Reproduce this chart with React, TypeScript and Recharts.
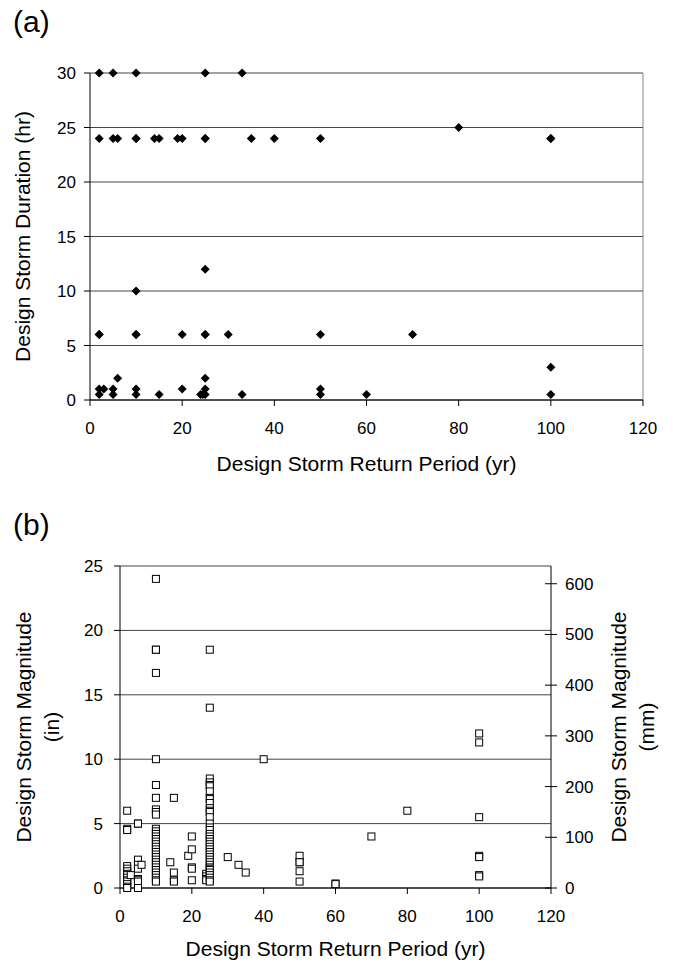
import React from "react";
import { ScatterChart, Scatter, XAxis, YAxis, CartesianGrid, ReferenceLine } from "recharts";

const FONT = '"Liberation Sans", Arial, sans-serif';

// (a) design storm duration vs return period
const durPeriod = [
  2, 5, 10, 25, 33,
  2, 5, 6, 10, 10, 14, 15, 19, 20, 25, 25, 35, 40, 50, 100, 100,
  80, 25, 10,
  2, 2, 10, 10, 20, 25, 25, 30, 50, 70,
  6, 25, 100,
  2, 3, 5, 10, 20, 25, 50,
  2, 5, 10, 15, 24, 24.5, 25, 33, 50, 60, 100,
];
const durHours = [
  30, 30, 30, 30, 30,
  24, 24, 24, 24, 24, 24, 24, 24, 24, 24, 24, 24, 24, 24, 24, 24,
  25, 12, 10,
  6, 6, 6, 6, 6, 6, 6, 6, 6, 6,
  2, 2, 3,
  1, 1, 1, 1, 1, 1, 1,
  0.5, 0.5, 0.5, 0.5, 0.5, 0.5, 0.5, 0.5, 0.5, 0.5, 0.5,
];

// (b) design storm magnitude vs return period
const magPeriod = [
  2, 2, 2, 2, 2, 2, 2, 2, 2, 2, 2, 2, 2, 2,
  3,
  5, 5, 5, 5, 5, 5, 5, 5, 5,
  6,
  10, 10, 10, 10, 10, 10, 10, 10, 10, 10, 10, 10, 10, 10, 10, 10, 10,
  10, 10, 10, 10, 10, 10, 10, 10, 10, 10, 10, 10, 10, 10, 10,
  14,
  15, 15, 15, 15,
  19,
  20, 20, 20, 20, 20,
  24, 24, 24, 24,
  25, 25, 25, 25, 25, 25, 25, 25, 25, 25, 25, 25, 25, 25, 25, 25, 25, 25, 25,
  25, 25, 25, 25, 25, 25, 25, 25, 25, 25, 25, 25, 25, 25, 25, 25, 25, 25, 25,
  30, 33, 35, 40,
  50, 50, 50, 50, 50,
  60, 60, 70, 80,
  100, 100, 100, 100, 100, 100, 100,
];
const magInches = [
  6.0, 4.6, 4.5, 1.7, 1.5, 1.3, 1.1, 1.0, 0.8, 0.6, 0.5, 0.3, 0.1, 0,
  1.0,
  5.0, 5.0, 2.2, 1.8, 1.5, 0.7, 0.6, 0.5, 0,
  1.8,
  24, 18.5, 18.5, 16.7, 10, 8, 7, 6.1, 5.9, 5.7, 4.6, 4.4, 4.2, 4.0, 3.8, 3.6, 3.4,
  3.2, 3.0, 2.8, 2.6, 2.4, 2.2, 2.0, 1.8, 1.6, 1.4, 1.2, 1.0, 0.8, 0.6, 0.5,
  2.0,
  7.0, 1.2, 0.6, 0.5,
  2.5,
  4.0, 3.0, 1.6, 1.5, 0.6,
  1.1, 0.9, 0.7, 0.6,
  18.5, 14, 8.5, 8.2, 8.0, 7.9, 7.5, 7.0, 6.9, 6.6, 6.2, 6.0, 5.9, 5.5, 5.0, 4.7, 4.5, 4.2, 4.0,
  3.8, 3.6, 3.4, 3.2, 3.0, 2.8, 2.6, 2.4, 2.2, 2.0, 1.8, 1.6, 1.5, 1.4, 1.2, 1.0, 0.8, 0.6, 0.5,
  2.4, 1.8, 1.2, 10,
  2.5, 2.0, 2.0, 1.3, 0.5,
  0.35, 0.3, 4.0, 6.0,
  12, 11.3, 5.5, 2.5, 2.4, 1.0, 0.9,
];

const periodTicks = [0, 20, 40, 60, 80, 100, 120];
const hourTicks = [0, 5, 10, 15, 20, 25, 30];
const inchTicks = [0, 5, 10, 15, 20, 25];
const mmTicks = [0, 100, 200, 300, 400, 500, 600];

const MM_PER_IN = 25.4;

const durData = durPeriod.map((p, i) => ({ period: p, hours: durHours[i] }));
const magData = magPeriod.map((p, i) => ({ period: p, inches: magInches[i], mm: magInches[i] * MM_PER_IN }));

const tickStyle = { fontSize: 17, fill: "#000", fontFamily: FONT };

const Diamond = (props: any) => {
  const { cx, cy } = props;
  const r = 4.5;
  return <polygon points={`${cx},${cy - r} ${cx + r},${cy} ${cx},${cy + r} ${cx - r},${cy}`} fill="#000" />;
};

const Square = (props: any) => {
  const { cx, cy } = props;
  return <rect x={cx - 3.5} y={cy - 3.5} width={7} height={7} fill="#fff" stroke="#000" strokeWidth={1} />;
};

const Nothing = () => <g />;

const vTitle = (lines: string[], x0: number) => (props: any) => {
  const vb = props.viewBox;
  const cy = vb.y + vb.height / 2;
  return (
    <text transform={`rotate(-90 ${x0} ${cy})`} x={x0} y={cy} textAnchor="middle" fontSize={21} fontFamily={FONT} fill="#000">
      {lines.map((l, i) => (
        <tspan key={i} x={x0} dy={i ? 28 : 0}>{l}</tspan>
      ))}
    </text>
  );
};

const hTitle = (text: string, dyBase: number) => (props: any) => {
  const vb = props.viewBox;
  return (
    <text x={vb.x + vb.width / 2} y={vb.y + dyBase} textAnchor="middle" fontSize={21} fontFamily={FONT} fill="#000">
      {text}
    </text>
  );
};

// right axis ticks cross the axis line
const mmTick = (props: any) => {
  const { x, y, payload } = props;
  const ax = x - 14;
  return (
    <g>
      <line x1={ax - 6} x2={ax + 6} y1={y} y2={y} stroke="#000" />
      <text x={x} y={y} dy="0.35em" textAnchor="start" {...tickStyle}>{payload.value}</text>
    </g>
  );
};

const panelLabel = (text: string, top: number) => (
  <div style={{ position: "absolute", left: 13, top, fontSize: 30, lineHeight: "34px", fontFamily: FONT }}>{text}</div>
);

export default function App() {
  return (
    <div style={{ position: "absolute", left: 0, top: 0, width: 673, height: 965, background: "#fff" }}>
      {panelLabel("(a)", 5)}
      {panelLabel("(b)", 508)}
      <div style={{ position: "absolute", left: 0, top: 0 }}>
        <ScatterChart width={673} height={480} margin={{ top: 73, right: 30, bottom: 20, left: 10 }}>
          <CartesianGrid horizontal vertical={false} stroke="#444" />
          <XAxis
            type="number"
            dataKey="period"
            domain={[0, 120]}
            ticks={periodTicks}
            height={60}
            tick={tickStyle}
            tickMargin={16}
            stroke="#000"
            label={hTitle("Design Storm Return Period (yr)", 71)}
          />
          <YAxis
            type="number"
            dataKey="hours"
            domain={[0, 30]}
            ticks={hourTicks}
            width={80}
            tick={tickStyle}
            tickMargin={8}
            stroke="#000"
            label={vTitle(["Design Storm Duration (hr)"], 30)}
          />
          <ReferenceLine x={120} stroke="#888" />
          <Scatter data={durData} shape={Diamond} isAnimationActive={false} />
        </ScatterChart>
      </div>
      <div style={{ position: "absolute", left: 0, top: 480 }}>
        <ScatterChart width={673} height={485} margin={{ top: 86, right: 10, bottom: 7, left: 10 }}>
          <CartesianGrid horizontal vertical={false} stroke="#444" yAxisId="in" />
          <XAxis
            type="number"
            dataKey="period"
            domain={[0, 120]}
            ticks={periodTicks}
            height={70}
            tick={tickStyle}
            tickMargin={16}
            stroke="#000"
            label={hTitle("Design Storm Return Period (yr)", 68)}
          />
          <YAxis
            yAxisId="in"
            type="number"
            dataKey="inches"
            domain={[0, 25]}
            ticks={inchTicks}
            width={110}
            tick={tickStyle}
            tickMargin={11}
            stroke="#000"
            label={vTitle(["Design Storm Magnitude", "(in)"], 31)}
          />
          <YAxis
            yAxisId="mm"
            orientation="right"
            type="number"
            dataKey="mm"
            domain={[0, 635]}
            allowDataOverflow
            ticks={mmTicks}
            width={112}
            tick={mmTick}
            tickLine={false}
            tickMargin={8}
            stroke="#000"
            label={vTitle(["Design Storm Magnitude", "(mm)"], 626)}
          />
          <Scatter yAxisId="mm" data={magData} dataKey="mm" shape={Nothing} isAnimationActive={false} />
          <Scatter yAxisId="in" data={magData} dataKey="inches" shape={Square} isAnimationActive={false} />
        </ScatterChart>
      </div>
    </div>
  );
}
